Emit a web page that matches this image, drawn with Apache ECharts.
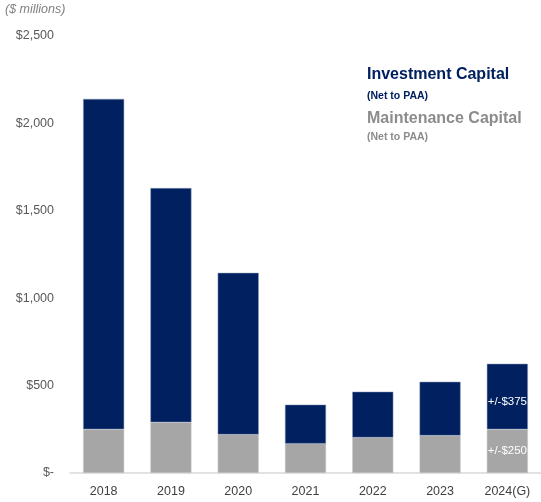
<!DOCTYPE html>
<html><head><meta charset="utf-8">
<script src="https://cdn.jsdelivr.net/npm/echarts@6/dist/echarts.min.js"></script>
<style>html,body{margin:0;padding:0;background:#fff}#c{width:541px;height:502px}</style>
</head><body><div id="c"></div>
<script>
const categories = ['2018','2019','2020','2021','2022','2023','2024(G)'];
const maintenance = [250, 290, 220, 168, 203, 214, 250];
const investment = [1890, 1340, 925, 223, 262, 308, 375];
const yTicks = [0, 500, 1000, 1500, 2000, 2500];
const barLabels2024 = ['+/-$375', '+/-$250'];

const chart = echarts.init(document.getElementById('c'));
const fmt = v => v === 0 ? '$-' : '$' + v.toLocaleString('en-US');
const F = 'Liberation Sans, Arial, sans-serif';
chart.setOption({
  animation: false,
  textStyle: {fontFamily: F},
  grid: {left: 70, right: -2, top: 36, bottom: 29},
  graphic: [
    {type: 'text', left: 5, top: 3, style: {text: '($ millions)', fontSize: 12.5, fontStyle: 'italic', fill: '#7f7f7f', fontFamily: F}},
    {type: 'text', left: 367, top: 67, style: {text: 'Investment Capital', fontSize: 16, fontWeight: 'bold', fill: '#002060', fontFamily: F}},
    {type: 'text', left: 367, top: 91, style: {text: '(Net to PAA)', fontSize: 10.5, fontWeight: 'bold', fill: '#002060', fontFamily: F}},
    {type: 'text', left: 367, top: 111, style: {text: 'Maintenance Capital', fontSize: 16, fontWeight: 'bold', fill: '#8c8c8c', fontFamily: F}},
    {type: 'text', left: 367, top: 132, style: {text: '(Net to PAA)', fontSize: 10.5, fontWeight: 'bold', fill: '#8c8c8c', fontFamily: F}}
  ],
  xAxis: {
    type: 'category', data: categories,
    axisLine: {lineStyle: {color: '#d9d9d9', width: 1.5}},
    axisTick: {show: false},
    axisLabel: {color: '#404040', fontSize: 12.5, margin: 12}
  },
  yAxis: {
    type: 'value', min: yTicks[0], max: yTicks[yTicks.length - 1], interval: 500,
    splitLine: {show: false}, axisLine: {show: false}, axisTick: {show: false},
    axisLabel: {color: '#595959', fontSize: 12.5, margin: 16, formatter: fmt}
  },
  series: [
    {type: 'bar', stack: 'a', data: maintenance, barCategoryGap: '39%',
     itemStyle: {color: '#a6a6a6', borderColor: '#c8c8c8', borderWidth: 0.5},
     label: {show: true, position: 'inside', color: '#fff', fontSize: 11.5,
       formatter: p => p.dataIndex === 6 ? barLabels2024[1] : ''}},
    {type: 'bar', stack: 'a', data: investment, barCategoryGap: '39%',
     itemStyle: {color: '#002060', borderColor: '#8a9ab8', borderWidth: 0.5},
     label: {show: true, position: 'inside', color: '#fff', fontSize: 11.5, offset: [0, 5],
       formatter: p => p.dataIndex === 6 ? barLabels2024[0] : ''}}
  ]
});
</script></body></html>
